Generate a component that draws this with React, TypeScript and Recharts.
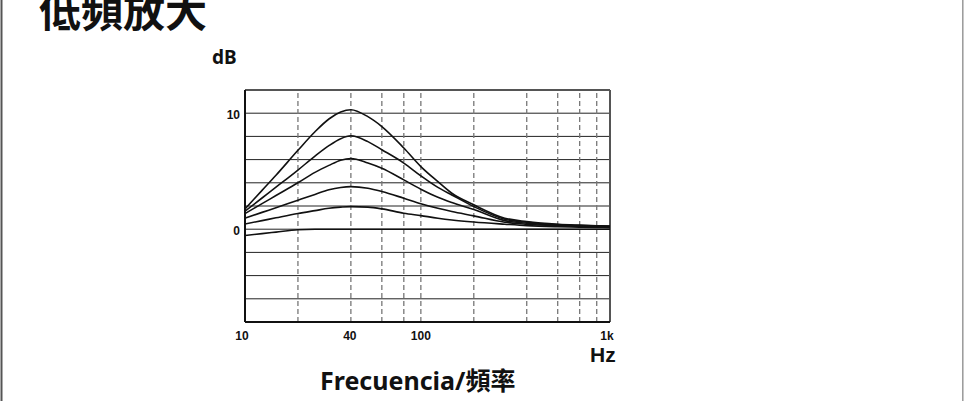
import { CartesianGrid, Line, LineChart, ReferenceLine, XAxis, YAxis } from "recharts";

// frequency points (Hz) and gain curves (dB)
const freqs = [10, 12.5, 15, 20, 25, 30, 35, 40, 50, 60, 80, 100, 125, 150, 200, 300, 400, 600, 800, 1000, 1190];
const boost10 = [1.75, 3.35, 4.65, 6.8, 8.4, 9.5, 10.1, 10.3, 9.7, 8.85, 7.0, 5.4, 4.1, 3.1, 2.1, 0.95, 0.66, 0.43, 0.35, 0.3, 0.27];
const boost8 = [1.55, 2.69, 3.62, 5.1, 6.3, 7.2, 7.8, 8.05, 7.55, 6.85, 5.7, 4.6, 3.6, 2.95, 1.95, 0.86, 0.6, 0.4, 0.32, 0.28, 0.25];
const boost6 = [1.35, 2.2, 2.9, 4.0, 4.9, 5.5, 5.95, 6.1, 5.7, 5.25, 4.25, 3.45, 2.75, 2.3, 1.7, 0.74, 0.52, 0.35, 0.28, 0.25, 0.22];
const boost4 = [0.95, 1.45, 1.85, 2.5, 3.0, 3.4, 3.6, 3.67, 3.53, 3.25, 2.67, 2.2, 1.8, 1.52, 1.15, 0.6, 0.43, 0.3, 0.24, 0.21, 0.19];
const boost2 = [0.45, 0.74, 0.98, 1.35, 1.6, 1.8, 1.9, 1.95, 1.9, 1.75, 1.38, 1.17, 0.95, 0.8, 0.62, 0.43, 0.31, 0.22, 0.18, 0.15, 0.13];
const flat = [-0.55, -0.38, -0.25, -0.05, 0, 0, 0, 0, 0, 0, 0, 0, 0, 0, 0, 0, 0, 0, 0, 0, 0];

const seriesKeys = ["b10", "b8", "b6", "b4", "b2", "b0"];
const seriesValues = [boost10, boost8, boost6, boost4, boost2, flat];

const xTicks = [10, 40, 100, 1190];
const xTickLabels = ["10", "40", "100", "1k"];
const yTicks = [-8, -6, -4, -2, 0, 2, 4, 6, 8, 10, 12];
const yLabelled = [0, 10];
const dashedFreqs = [20, 40, 60, 80, 100, 200, 400, 600, 800, 1000];

const data = freqs.map((f, i) => {
  const row: Record<string, number> = { f };
  seriesKeys.forEach((k, j) => {
    row[k] = seriesValues[j][i];
  });
  return row;
});

const numFont = "'Liberation Sans', Arial, sans-serif";
const textFont = "'Noto Sans', 'Noto Sans CJK TC', sans-serif";
const xShift = [-3, -1, 0, -3];

function XTick(props: any) {
  const { x, y, payload } = props;
  const i = xTicks.indexOf(payload.value);
  return (
    <text
      x={x + (xShift[i] ?? 0)}
      y={y + 18}
      textAnchor="middle"
      fontFamily={numFont}
      fontWeight="bold"
      fontSize={12}
      fill="#111"
    >
      {xTickLabels[i]}
    </text>
  );
}

function YTick(props: any) {
  const { x, y, payload } = props;
  if (!yLabelled.includes(payload.value)) return <g />;
  return (
    <text
      x={x - 5}
      y={y + 6}
      textAnchor="end"
      fontFamily={numFont}
      fontWeight="bold"
      fontSize={12}
      fill="#111"
    >
      {payload.value}
    </text>
  );
}

export default function App() {
  return (
    <div
      style={{
        position: "absolute",
        left: 0,
        top: 0,
        width: 964,
        height: 401,
        background: "#fff",
        overflow: "hidden",
      }}
    >
      <LineChart
        width={964}
        height={401}
        data={data}
        margin={{ top: 90, right: 354, bottom: 49, left: 215 }}
      >
        <CartesianGrid vertical={false} stroke="#222" strokeWidth={1} />
        <XAxis
          dataKey="f"
          type="number"
          scale="log"
          domain={[10, 1190]}
          ticks={xTicks}
          interval={0}
          allowDataOverflow
          height={30}
          tickSize={0}
          tickMargin={0}
          tickLine={false}
          axisLine={{ stroke: "#111", strokeWidth: 2 }}
          tick={XTick}
        />
        <YAxis
          type="number"
          domain={[-8, 12]}
          ticks={yTicks}
          interval={0}
          width={30}
          tickSize={0}
          tickMargin={0}
          tickLine={false}
          axisLine={{ stroke: "#111", strokeWidth: 2 }}
          tick={YTick}
        />
        {dashedFreqs.map((f) => (
          <ReferenceLine
            key={f}
            x={f}
            stroke="#777"
            strokeWidth={1.3}
            strokeDasharray="5 3"
          />
        ))}
        <ReferenceLine y={12} stroke="#555" strokeWidth={2} />
        <ReferenceLine x={1190} stroke="#555" strokeWidth={2} />
        {seriesKeys.map((k) => (
          <Line
            key={k}
            dataKey={k}
            type="monotone"
            stroke="#111"
            strokeWidth={1.6}
            dot={false}
            isAnimationActive={false}
          />
        ))}
      </LineChart>
      <svg
        width={964}
        height={401}
        style={{ position: "absolute", left: 0, top: 0, pointerEvents: "none" }}
      >
        <line x1={1.5} y1={0} x2={1.5} y2={401} stroke="#555" strokeWidth={2} />
        <line x1={962.8} y1={0} x2={962.8} y2={401} stroke="#999" strokeWidth={1.5} />
        <text x={39} y={27} fontFamily="'Noto Sans CJK TC', sans-serif" fontWeight="bold" fontSize={42} fill="#111">
          低頻放大
        </text>
        <text x={212} y={64} fontFamily={textFont} fontWeight="bold" fontSize={19} fill="#111">
          dB
        </text>
        <text x={590} y={362} fontFamily={numFont} fontWeight="bold" fontSize={21} fill="#111">
          Hz
        </text>
        <text x={320} y={390} fontFamily={textFont} fontWeight="bold" fontSize={25} fill="#111">
          Frecuencia/頻率
        </text>
      </svg>
    </div>
  );
}
